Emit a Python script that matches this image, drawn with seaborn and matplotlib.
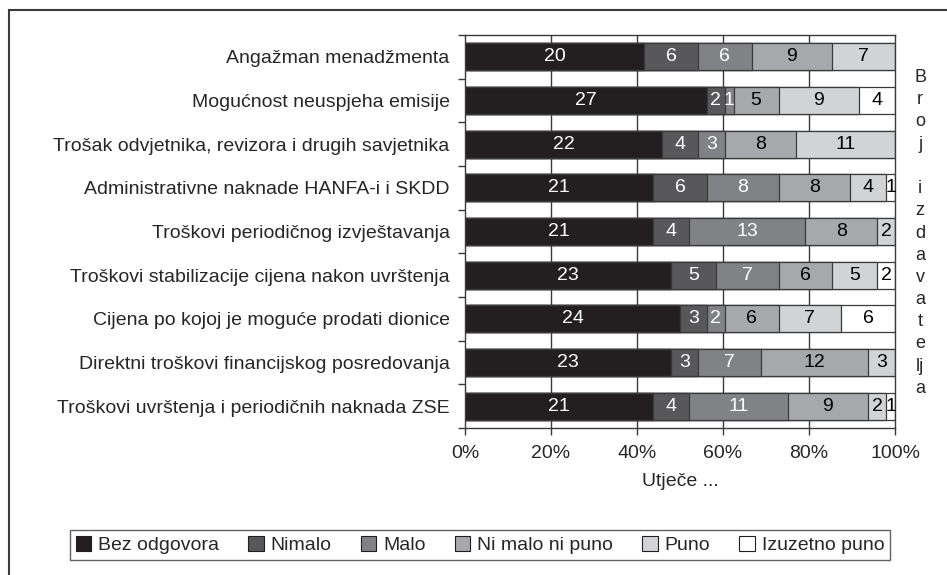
import numpy as np
import pandas as pd
import matplotlib
matplotlib.use("Agg")
import matplotlib.pyplot as plt
import seaborn as sns
from matplotlib.patches import Rectangle, Patch
from matplotlib.ticker import FixedLocator

# Data
categories = [
    "Angažman menadžmenta",
    "Mogućnost neuspjeha emisije",
    "Trošak odvjetnika, revizora i drugih savjetnika",
    "Administrativne naknade HANFA-i i SKDD",
    "Troškovi periodičnog izvještavanja",
    "Troškovi stabilizacije cijena nakon uvrštenja",
    "Cijena po kojoj je moguće prodati dionice",
    "Direktni troškovi financijskog posredovanja",
    "Troškovi uvrštenja i periodičnih naknada ZSE",
]
series_names = ["Bez odgovora", "Nimalo", "Malo", "Ni malo ni puno", "Puno", "Izuzetno puno"]
bez_odgovora = [20, 27, 22, 21, 21, 23, 24, 23, 21]
nimalo = [6, 2, 4, 6, 4, 5, 3, 3, 4]
malo = [6, 1, 3, 8, 13, 7, 2, 7, 11]
ni_malo_ni_puno = [9, 5, 8, 8, 8, 6, 6, 12, 9]
puno = [7, 9, 11, 4, 2, 5, 7, 3, 2]
izuzetno_puno = [0, 4, 0, 1, 0, 2, 6, 0, 1]

colors = ["#231f20", "#58585a", "#818285", "#a7a8ab", "#d2d3d5", "#ffffff"]
text_colors = ["white", "white", "white", "black", "black", "black"]

counts = pd.DataFrame(
    np.array([bez_odgovora, nimalo, malo, ni_malo_ni_puno, puno, izuzetno_puno]).T,
    index=categories, columns=series_names,
)
pct = counts.div(counts.sum(axis=1), axis=0) * 100
cum = pct.cumsum(axis=1)

sns.set_style("white")
plt.rcParams["font.family"] = ["Liberation Sans", "DejaVu Sans"]
FS = 14

fig = plt.figure(figsize=(9.47, 5.75), dpi=100)
ax = fig.add_axes([465 / 947, 1 - 428 / 575, 430 / 947, 393 / 575])

# gridlines behind bars
for xv in [20, 40, 60, 80]:
    ax.axvline(xv, color="#3a3a3a", lw=1.0, zorder=0)

# stacked bars: draw cumulative totals from the last series to the first
long = cum.reset_index(names="kat")
for i in range(len(series_names) - 1, -1, -1):
    sns.barplot(data=long, x=series_names[i], y="kat", orient="h", color=colors[i],
                width=0.62, edgecolor="#3a3a3a", linewidth=0.9, saturation=1,
                ax=ax, zorder=2)

# value labels in the middle of each segment
for r, cat in enumerate(categories):
    for i, name in enumerate(series_names):
        v = counts.loc[cat, name]
        if v == 0:
            continue
        mid = cum.loc[cat, name] - pct.loc[cat, name] / 2
        ax.text(mid, r, str(v), ha="center", va="center", fontsize=FS,
                color=text_colors[i], zorder=3)

ax.set_xlim(0, 100)
ax.set_ylim(len(categories) - 0.5, -0.5)
ax.set_xticks([0, 20, 40, 60, 80, 100])
ax.set_xticklabels([f"{t}%" for t in [0, 20, 40, 60, 80, 100]], fontsize=FS)
ax.set_xlabel("Utječe ...", fontsize=FS, labelpad=8)
ax.set_ylabel("")
ax.tick_params(axis="x", direction="out", length=5, width=1, color="#3a3a3a", pad=7, bottom=True)
ax.tick_params(axis="y", which="major", length=0, pad=11, labelsize=FS, left=True)
ax.yaxis.set_minor_locator(FixedLocator(np.arange(-0.5, len(categories), 1.0)))
ax.tick_params(axis="y", which="minor", direction="out", length=5, width=1, color="#3a3a3a", left=True)
for s in ax.spines.values():
    s.set_visible(True)
    s.set_color("#3a3a3a")
    s.set_linewidth(1.0)

# right-hand vertical caption
fig.text(920 / 947, 1 - 233 / 575, "B\nr\no\nj\n \ni\nz\nd\na\nv\na\nt\ne\nlj\na",
         ha="center", va="center", fontsize=13, linespacing=1.4)

# legend
handles = [Patch(facecolor=c, edgecolor="#231f20", linewidth=0.8) for c in colors]
fig.legend(handles, series_names, loc="center", bbox_to_anchor=(480 / 947, 1 - 545 / 575),
           ncol=6, fontsize=FS, frameon=True, fancybox=False, edgecolor="#3a3a3a",
           handlelength=0.8, handleheight=0.8, handletextpad=0.35, columnspacing=1.5,
           borderpad=0.3)

# outer frame
fig.patches.append(Rectangle((9 / 947, -0.2), 2, 1 - 10 / 575 + 0.2, transform=fig.transFigure,
                             fill=False, edgecolor="#3a3a3a", lw=1.5))

fig.savefig("out.png", dpi=100)
